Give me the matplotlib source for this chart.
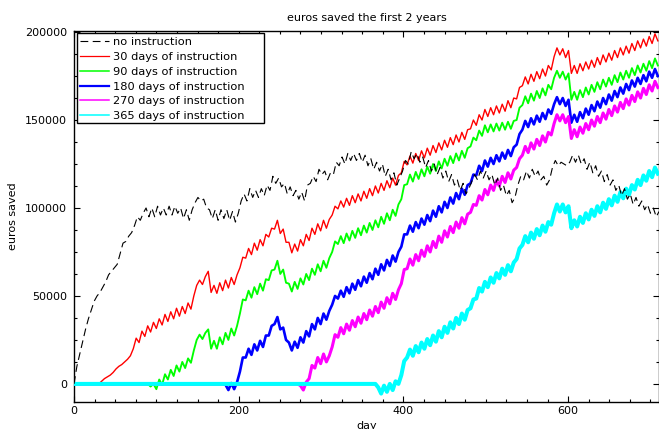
import numpy as np
import matplotlib
matplotlib.use("Agg")
import matplotlib.pyplot as plt
from matplotlib.patches import Rectangle
from matplotlib.lines import Line2D
from matplotlib.ticker import MultipleLocator, FixedLocator, FuncFormatter

plt.rcParams['font.family'] = ['DejaVu Sans']
plt.rcParams['font.size'] = 8

# ---------------- data (values in thousands of euros) ----------------
step = 3.5  # days between samples

labels = ["no instruction", "30 days of instruction", "90 days of instruction",
          "180 days of instruction", "270 days of instruction", "365 days of instruction"]

none_start = 0.0
none_k = [0, 10, 17, 24, 31, 37, 42, 47, 50, 52,
          55, 58, 62, 64, 66, 68, 74, 80, 81, 84,
          86, 90, 95, 93, 97, 100, 95, 100, 95, 101,
          96, 100, 96, 101, 96, 101, 97, 100, 94, 99,
          93, 99, 103, 106, 104, 105, 100, 99, 94, 99,
          93, 99, 94, 99, 93, 98, 92, 97, 104, 108,
          104, 111, 106, 110, 106, 111, 107, 113, 110, 118,
          114, 117, 112, 114, 108, 112, 107, 110, 105, 109,
          104, 113, 114, 118, 115, 122, 119, 121, 116, 120,
          119, 126, 124, 129, 125, 131, 127, 131, 127, 131,
          126, 130, 124, 128, 122, 126, 121, 125, 118, 122,
          116, 120, 113, 117, 121, 127, 125, 132, 128, 131,
          126, 129, 123, 127, 121, 125, 119, 123, 117, 121,
          115, 119, 113, 116, 110, 114, 108, 111, 115, 119,
          116, 121, 117, 121, 116, 119, 113, 117, 110, 113,
          107, 110, 103, 106, 113, 118, 116, 121, 117, 122,
          118, 121, 116, 118, 113, 116, 123, 127, 124, 126,
          125, 124, 126, 130, 126, 130, 125, 128, 122, 126,
          120, 124, 118, 121, 115, 119, 113, 116, 110, 113,
          107, 111, 105, 108, 102, 106, 101, 104, 99, 102,
          97, 100, 95, 98]

d30_start = 30.0
d30_k = [0, 1.5, 3, 4, 5, 6.5, 8.5, 10, 11, 12.5,
         14, 16, 20, 26, 23.5, 30, 27, 33, 29.5, 35,
         31.5, 37, 33.5, 39.5, 35.5, 41, 37, 43, 38.5, 44,
         40, 46, 42.5, 50, 56, 59, 56.5, 61, 64, 52,
         56, 51.5, 57.5, 53, 59, 54.5, 60.5, 56.5, 62, 66,
         72, 71.5, 77, 73.5, 80, 76, 82, 78.5, 85, 83.5,
         88.5, 88, 93, 85.5, 88, 80.5, 80.5, 74.5, 79.5, 75.5,
         82, 78.5, 85, 81.5, 88.5, 85, 91, 87, 93, 88.5,
         93.5, 96, 101, 99.5, 104, 100.5, 105.5, 101.5, 107, 103,
         108, 104, 109.5, 105.5, 111, 107, 112.5, 108.5, 114, 110,
         115.5, 111.5, 117, 113, 118.5, 120, 126.5, 124.5, 129.5, 125.5,
         131, 127, 132.5, 128.5, 134, 130, 135.5, 131.5, 137, 133,
         138.5, 134.5, 140, 136, 141.5, 137.5, 143, 139, 144.5, 145,
         150, 147, 153, 150, 156, 152, 157, 153, 158, 154,
         159, 155, 161, 157, 162.5, 162, 168.5, 169.5, 174.5, 170.5,
         176, 172, 177.5, 173.5, 179, 175, 181, 178.5, 186, 191,
         187, 190.5, 185.5, 189.5, 176.5, 181, 176.5, 182, 178, 183,
         179, 184, 180, 185.5, 181.5, 187, 183, 188, 184, 189.5,
         185.5, 191, 187, 192, 188, 193.5, 189.5, 195, 191, 196,
         192, 197.5, 193.5, 199, 195]

d90_start = 89.5
d90_k = [0, -1.5, 0, -3, 2.5, -0.5, 5.5, 2.5, 8, 4.5,
         10.5, 7, 12.5, 9, 14.5, 12, 19, 25, 28, 25.5,
         29, 31, 20, 24.5, 20, 26.5, 22.5, 29, 25, 31.5,
         27.5, 33, 40, 48, 47.5, 53, 49, 55, 51, 57,
         53, 59.5, 59, 64.5, 65, 70, 62.5, 65, 57.5, 57,
         52.5, 58, 54, 60, 56.5, 62.5, 59, 65.5, 62, 68,
         64, 70, 66, 71.5, 75, 81, 79.5, 84, 80, 85.5,
         81.5, 87, 83, 88.5, 84.5, 90, 86, 91.5, 87.5, 93,
         89, 95, 91, 97, 93, 99, 95.5, 102, 105, 113,
         113.5, 119, 115, 120.5, 116.5, 122, 118, 123.5, 119.5, 125,
         121, 126.5, 122.5, 128, 124, 129.5, 125.5, 131, 127, 132.5,
         128.5, 134, 135, 140, 138.5, 144, 141, 147, 143, 147.5,
         143.5, 148, 144, 148.5, 144.5, 149, 145, 149.5, 150, 157,
         158.5, 163.5, 159.5, 165, 161, 166.5, 162.5, 168, 164, 170,
         167.5, 174, 178, 174, 177.5, 173, 176.5, 161.5, 166, 161.5,
         167, 163, 168.5, 164.5, 170, 166, 171.5, 167.5, 173, 169,
         174, 170, 175.5, 171.5, 177, 173, 178, 174, 179.5, 175.5,
         181, 177, 182, 178, 183.5, 179.5, 185, 181]

d180_start = 180.5
d180_k = [0, -0.5, -3.5, 0.5, -3, 1, 7, 15, 15, 20,
          16.5, 22.5, 19, 24.5, 21, 27.5, 27.5, 33, 34, 38,
          31, 32, 25, 23.5, 19, 24, 20.5, 26.5, 23.5, 30,
          27, 34, 31, 37.5, 34, 40, 36.5, 41.5, 45, 50,
          48.5, 53, 49.5, 55, 51.5, 57, 53.5, 59, 55.5, 61,
          57.5, 63, 59.5, 65.5, 62, 68, 64.5, 70.5, 67, 73,
          69.5, 75, 78, 85, 85, 90, 86.5, 92, 88.5, 94,
          90.5, 96, 92.5, 98.5, 95, 101, 97.5, 103.5, 100, 106,
          102.5, 108.5, 105, 111, 107.5, 113, 114, 119, 118.5, 124,
          121, 127, 123.5, 128.5, 125, 130, 126.5, 131.5, 128, 133,
          129.5, 134.5, 136, 142, 144.5, 149.5, 146, 151, 147.5, 152.5,
          149, 154, 150.5, 156, 153.5, 159, 163, 159, 162.5, 158,
          161.5, 148.5, 153, 149, 154.5, 151, 156.5, 153, 158.5, 155,
          160.5, 157, 162.5, 159, 164.5, 161, 166.5, 163, 168.5, 165,
          170.5, 167, 172.5, 169, 174, 170.5, 175.5, 172, 177.5, 174,
          179, 175]

d270_start = 271.5
d270_k = [0, -1, -3.5, 1, 3, 10.5, 9, 15, 11.5, 17,
          12.5, 16, 21, 28, 26.5, 32, 28.5, 34, 30.5, 36,
          32.5, 38, 34.5, 40, 36.5, 42, 38.5, 44, 40.5, 46.5,
          43, 49, 45.5, 51.5, 48, 53.5, 57, 65, 65.5, 71,
          67.5, 73.5, 70, 76, 72.5, 78.5, 75, 81, 77.5, 84,
          80.5, 87, 83.5, 89.5, 86, 92, 88.5, 94.5, 91, 96.5,
          97.5, 102, 101.5, 107, 104.5, 110.5, 107.5, 113, 110, 115.5,
          112.5, 118, 114.5, 120, 116.5, 121.5, 123, 128, 130, 135,
          131.5, 137, 133.5, 139, 135.5, 141, 137.5, 143, 141.5, 148,
          153, 149.5, 153, 148.5, 152, 139.5, 144.5, 140.5, 146, 142.5,
          148, 144.5, 150, 146.5, 152, 148.5, 154, 150.5, 156, 152.5,
          158, 154.5, 160, 156.5, 162, 158.5, 164, 160.5, 166, 162.5,
          168, 164.5, 170, 166.5, 172, 168.5]

d365_start = 366.0
d365_k = [0, -2, -5.5, -1, -4.5, 0, -3.5, 1.5, 0, 5,
          13, 15, 19.5, 16, 21.5, 18, 23.5, 20, 25.5, 22,
          27.5, 24, 30, 26.5, 32.5, 29, 35, 31.5, 37.5, 34,
          40, 36.5, 42, 43, 48, 48.5, 54.5, 52.5, 58, 55,
          60.5, 57.5, 63, 60, 65.5, 62, 67.5, 64, 69, 71,
          77, 79, 84, 80.5, 86, 82.5, 88, 84.5, 90, 86.5,
          92, 90.5, 97, 102, 98, 102, 97.5, 101, 88.5, 93,
          89.5, 95, 91.5, 97, 93.5, 99, 95.5, 101, 97.5, 103,
          99.5, 105, 101.5, 107, 103.5, 109, 105.5, 111, 107.5, 113,
          110.5, 116, 113, 118.5, 115.5, 121, 117.5, 123, 119.5]

colors = ["black", "#ff0000", "#00ff00", "#0000ff", "#ff00ff", "#00ffff"]
widths = [0.8, 1.0, 1.35, 1.9, 2.2, 2.9]
legend_widths = [0.8, 0.9, 1.1, 1.6, 1.1, 1.1]

# ---------------- figure ----------------
W, H = 659.0, 429.0
fig = plt.figure(figsize=(W / 100, H / 100), dpi=100)
ax_l, ax_r, ax_t, ax_b = 74.0, 659.0, 31.0, 401.5
aw, ah = ax_r - ax_l, ax_b - ax_t
ax = fig.add_axes([ax_l / W, (H - ax_b) / H, aw / W, ah / H])


def series(start, vals):
    vals = np.asarray(vals, dtype=float) * 1000.0
    days = start + step * np.arange(len(vals))
    if start > 0:
        days = np.concatenate([[0.0], days])
        vals = np.concatenate([[0.0], vals])
    return days, vals


inst = [(d30_start, d30_k), (d90_start, d90_k), (d180_start, d180_k),
        (d270_start, d270_k), (d365_start, d365_k)]

dash = (7, 4)
x0, y0 = series(none_start, none_k)
ax.plot(x0, y0, color=colors[0], lw=widths[0], dashes=dash, zorder=10)
for i, (s, v) in enumerate(inst):
    x, y = series(s, v)
    ax.plot(x, y, color=colors[i + 1], lw=widths[i + 1], zorder=2 + i)

handles = []
for i in range(6):
    if i == 0:
        handles.append(Line2D([], [], color=colors[i], lw=legend_widths[i], dashes=dash))
    else:
        handles.append(Line2D([], [], color=colors[i], lw=legend_widths[i]))

ax.set_xlim(0, 710.4)
ax.set_ylim(-10000, 200600)
ax.xaxis.set_major_locator(FixedLocator([0, 200, 400, 600]))
ax.xaxis.set_minor_locator(MultipleLocator(25))
ax.yaxis.set_major_locator(FixedLocator([0, 50000, 100000, 150000, 200000]))
ax.yaxis.set_minor_locator(MultipleLocator(12500))
ax.yaxis.set_major_formatter(FuncFormatter(lambda v, p: "%d" % v))
ax.tick_params(which='both', direction='in', top=True, right=True,
               width=0.8, colors='black', labelsize=8)
ax.tick_params(which='major', length=4.5, pad=3.5)
ax.tick_params(axis='y', which='major', pad=5)
ax.tick_params(which='minor', length=2)
for sp in ax.spines.values():
    sp.set_linewidth(1.0)

ax.set_title("euros saved the first 2 years", fontsize=8, pad=7)
ax.set_xlabel("day", fontsize=8, labelpad=3)
ax.set_ylabel("euros saved", fontsize=8, labelpad=5)

# legend frame (gnuplot-like box with wide right margin)
box_l, box_r, box_t, box_b = 77.0, 264.0, 33.0, 123.0
frame = Rectangle(((box_l - ax_l) / aw, (ax_b - box_b) / ah),
                  (box_r - box_l) / aw, (box_b - box_t) / ah,
                  transform=ax.transAxes, facecolor='white', edgecolor='black',
                  lw=1.0, zorder=19)
ax.add_patch(frame)

leg = ax.legend(handles=handles, labels=labels, loc='upper left',
                bbox_to_anchor=((box_l + 0.5 - ax_l) / aw, (ax_b - box_t - 1.5) / ah),
                borderaxespad=0, frameon=False,
                fontsize=8.2, handlelength=2.5, handletextpad=0.36,
                labelspacing=0.42, borderpad=0.25)
leg.set_zorder(20)

fig.savefig("out.png", dpi=100)
